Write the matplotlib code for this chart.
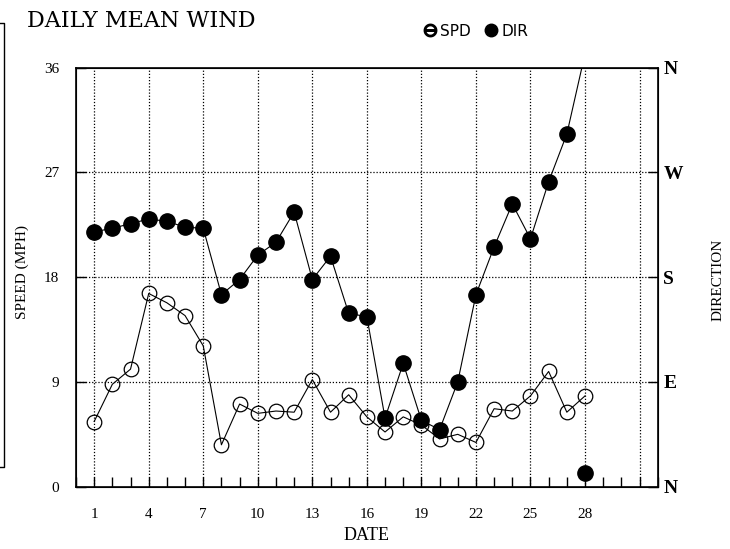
"""
Daily mean wind: speed (open circles) and direction (filled circles)
"""
import matplotlib
matplotlib.use('Agg')
import matplotlib.pyplot as plt
import matplotlib.lines as mlines
import numpy as np

# %% data
days = np.arange(1, 29)
spd = [5.6, 8.8, 10.1, 16.6, 15.8, 14.7, 12.1, 3.6, 7.1, 6.3,
       6.5, 6.4, 9.2, 6.4, 7.9, 6.0, 4.7, 6.0, 5.3, 4.1,
       4.5, 3.8, 6.7, 6.5, 7.8, 9.9, 6.4, 7.8]
dirn = [21.9, 22.2, 22.6, 23.0, 22.8, 22.3, 22.2, 16.5, 17.8, 19.9,
        21.0, 23.6, 17.8, 19.8, 14.9, 14.6, 5.9, 10.6, 5.7, 4.9,
        9.0, 16.5, 20.6, 24.3, 21.3, 26.2, 30.3, 1.2]
speed_ticks = [0, 9, 18, 27, 36]
dir_labels = ['N', 'E', 'S', 'W', 'N']
date_ticks = [1, 4, 7, 10, 13, 16, 19, 22, 25, 28]
grid_x = [1, 4, 7, 10, 13, 16, 19, 22, 25, 28, 31]

# direction wraps past north: unwrap for the connecting line only
dir_line = np.array(dirn, dtype=float)
for i in range(1, len(dir_line)):
    if dir_line[i] - dir_line[i - 1] < -18:
        dir_line[i] += 36

serif = 'Liberation Serif'

# %% plot
fig = plt.figure(figsize=(7.3, 5.49), dpi=100)
ax = fig.add_axes([0.1041, 0.1135, 0.7969, 0.7632])

ax.plot(days, spd, color='black', lw=0.8, marker='o', ms=10.5,
        mfc='none', mec='black', mew=0.9, zorder=3)
ax.plot(days, dir_line, color='black', lw=0.8, zorder=3)
ax.plot(days, dirn, ls='none', marker='o', ms=11, mfc='black',
        mec='black', zorder=4, clip_on=False)

ax.set_xlim(0, 32)
ax.set_ylim(0, 36)
ax.set_xticks(date_ticks)
ax.set_xticks(np.arange(0, 33), minor=True)
ax.set_yticks(speed_ticks)
ax.tick_params(axis='both', direction='in', length=7, width=1,
               labelsize=11, color='black')
ax.tick_params(axis='x', which='minor', direction='in', length=7, width=1)
ax.tick_params(axis='x', pad=15)
ax.tick_params(axis='y', pad=12)
for lab in ax.get_xticklabels() + ax.get_yticklabels():
    lab.set_fontfamily(serif)

for x in grid_x:
    ax.axvline(x, color='black', ls=(0, (1, 1.5)), lw=0.9, zorder=1)
for y in [9, 18, 27]:
    ax.axhline(y, color='black', ls=(0, (1, 1.5)), lw=0.9, zorder=1)
for sp in ax.spines.values():
    sp.set_linewidth(1.2)

ax.set_xlabel('DATE', fontfamily=serif, fontsize=13, labelpad=5)

ax2 = ax.twinx()
ax2.set_ylim(0, 36)
ax2.set_yticks(speed_ticks)
ax2.set_yticklabels(dir_labels, fontfamily=serif, fontweight='bold',
                    fontsize=14)
ax2.tick_params(axis='y', direction='in', length=7, width=1, pad=4)

# axis titles placed like the original
fig.text(22 / 730, 1 - 272 / 549, 'SPEED (MPH)', fontfamily=serif,
         fontsize=11, rotation=90, ha='center', va='center')
fig.text(718 / 730, 1 - 280 / 549, 'DIRECTION', fontfamily=serif,
         fontsize=11, rotation=90, ha='center', va='center')

# title and legend
fig.text(0.037, 0.962, 'DAILY MEAN WIND', fontfamily='DejaVu Serif',
         fontsize=16, va='center', ha='left')
h_spd = mlines.Line2D([], [], ls='none', marker='$\\ominus$', ms=9,
                      color='black')
h_dir = mlines.Line2D([], [], ls='none', marker='o', ms=9, color='black')
fig.legend([h_spd, h_dir], ['SPD', 'DIR'], loc='center',
           bbox_to_anchor=(0.652, 0.943), ncol=2, frameon=False,
           fontsize=11, handlelength=0.8, handletextpad=0.3,
           columnspacing=0.9)

# cropped frame fragment on the left edge
fig.add_artist(mlines.Line2D([0, 4 / 730, 4 / 730, 0],
                             [1 - 23 / 549, 1 - 23 / 549, 1 - 467 / 549, 1 - 467 / 549],
                             transform=fig.transFigure, color='black', lw=1))

fig.savefig('out.png', dpi=100)
